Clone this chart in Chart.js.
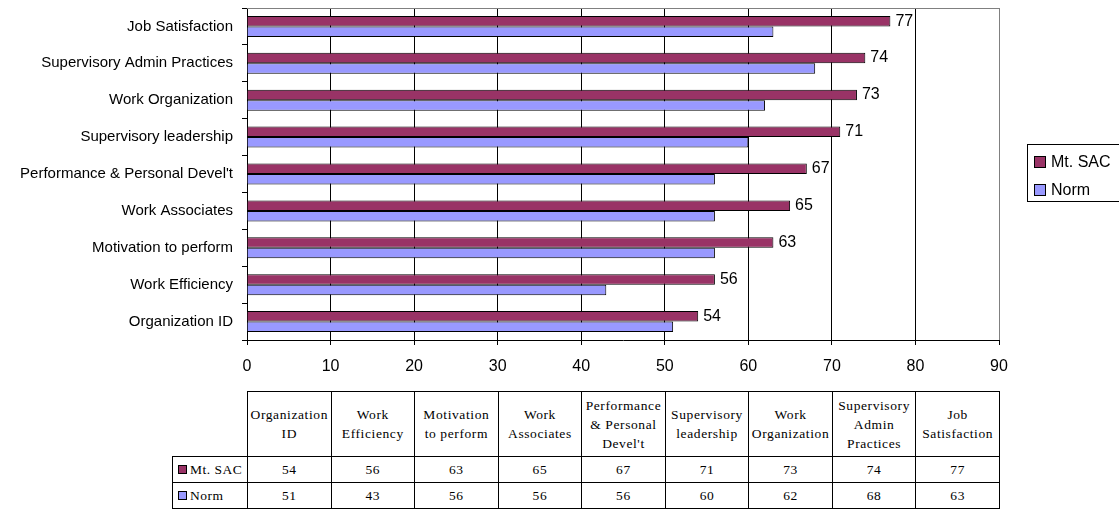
<!DOCTYPE html>
<html>
<head>
<meta charset="utf-8">
<script src="https://cdn.jsdelivr.net/npm/chart.js@4.4.1/dist/chart.umd.min.js"></script>
<style>
  body { margin: 0; background: #fff; width: 1119px; height: 510px; overflow: hidden; position: relative; }
  #chart { position: absolute; left: 0; top: 0; }
  #legend {
    position: absolute; left: 1027px; top: 144px; width: 110px; height: 58px;
    border: 1px solid #000; box-sizing: border-box;
    font: 16px Arial, "Liberation Sans", sans-serif; color: #000;
  }
  #legend .item { position: absolute; left: 6px; height: 16px; line-height: 16px; white-space: nowrap; }
  #legend .sw { display: inline-block; width: 10px; height: 10px; border: 1px solid #000; vertical-align: -1px; margin-right: 5px; }
  #dataTable {
    position: absolute; left: 172px; top: 391px;
    border-collapse: collapse; table-layout: fixed;
    font-family: "Liberation Serif", "Times New Roman", serif; font-size: 13.5px; color: #000;
  }
  #dataTable td { border: 1px solid #000; text-align: center; padding: 0; letter-spacing: 0.6px; }
  #dataTable tr.head td { height: 64px; line-height: 19px; }
  #dataTable tr.row td { height: 25px; }
  #dataTable td.blank { border: none; border-bottom: 1px solid #000; }
  #dataTable td.lab { text-align: left; padding-left: 5px; white-space: nowrap; letter-spacing: 0.5px; }
  #dataTable .sq { display: inline-block; width: 7px; height: 7px; border: 1px solid #000; margin-right: 3px; vertical-align: 0px; }
</style>
</head>
<body>
<canvas id="chart" width="1119" height="380"></canvas>
<div id="legend"></div>
<table id="dataTable"></table>
<script>
const categories = ['Organization ID', 'Work Efficiency', 'Motivation to perform', 'Work Associates',
  "Performance & Personal Devel't", 'Supervisory leadership', 'Work Organization',
  'Supervisory Admin Practices', 'Job Satisfaction'];
const seriesNames = ['Mt. SAC', 'Norm'];
const mtSac = [54, 56, 63, 65, 67, 71, 73, 74, 77];
const norm = [51, 43, 56, 56, 56, 60, 62, 68, 63];
const xTicks = [0, 10, 20, 30, 40, 50, 60, 70, 80, 90];
// header text of the data table, wrapped like the original
const tableHeaders = [
  ['Organization', 'ID'], ['Work', 'Efficiency'], ['Motivation', 'to perform'], ['Work', 'Associates'],
  ['Performance', '& Personal', "Devel't"], ['Supervisory', 'leadership'], ['Work', 'Organization'],
  ['Supervisory', 'Admin', 'Practices'], ['Job', 'Satisfaction']
];

const colors = ['#993366', '#9999ff'];

const frame = {
  id: 'frame',
  beforeDatasetsDraw(chart) {
    const { ctx, chartArea: a } = chart;
    ctx.save();
    ctx.strokeStyle = '#808080';
    ctx.lineWidth = 1;
    ctx.beginPath();
    ctx.moveTo(a.left, a.top + 0.5);
    ctx.lineTo(a.right, a.top + 0.5);
    ctx.stroke();
    ctx.restore();
  },
  afterDatasetsDraw(chart) {
    const { ctx } = chart;
    const meta = chart.getDatasetMeta(0);
    ctx.save();
    ctx.font = '16px Arial, "Liberation Sans", sans-serif';
    ctx.fillStyle = '#000';
    ctx.textAlign = 'left';
    ctx.textBaseline = 'middle';
    meta.data.forEach((bar, i) => {
      ctx.fillText(String(mtSac[i]), bar.x + 5, bar.y);
    });
    ctx.restore();
  }
};

const chart = new Chart(document.getElementById('chart'), {
  type: 'bar',
  data: {
    labels: categories,
    datasets: [
      { label: seriesNames[0], data: mtSac, backgroundColor: colors[0], borderColor: '#000', borderWidth: 1 },
      { label: seriesNames[1], data: norm, backgroundColor: colors[1], borderColor: '#000', borderWidth: 1 }
    ]
  },
  options: {
    indexAxis: 'y',
    responsive: false,
    animation: false,
    categoryPercentage: 0.57,
    barPercentage: 1,
    layout: { padding: { top: 8, right: 120, left: 0, bottom: 0 } },
    plugins: { legend: { display: false }, tooltip: { enabled: false } },
    scales: {
      x: {
        min: 0, max: 90,
        afterBuildTicks: (s) => { s.ticks = xTicks.map(v => ({ value: v })); },
        afterFit: (s) => { s.height = 40; s.paddingLeft = 0; s.paddingRight = 0; },
        border: { color: '#000' },
        grid: {
          color: (c) => (c.tick && c.tick.value === 90 ? '#808080' : '#000'),
          tickColor: '#000',
          tickLength: 5
        },
        ticks: { color: '#000', padding: 12, font: { family: 'Arial, "Liberation Sans", sans-serif', size: 16 } }
      },
      y: {
        reverse: true,
        afterFit: (s) => { s.width = 247; s.paddingTop = 0; s.paddingBottom = 0; },
        border: { color: '#000' },
        grid: { drawOnChartArea: false, color: '#000', tickLength: 5 },
        ticks: { color: '#000', padding: 9, font: { family: 'Arial, "Liberation Sans", sans-serif', size: 15 } }
      }
    }
  },
  plugins: [frame]
});

// legend
const legend = document.getElementById('legend');
seriesNames.forEach((name, i) => {
  const d = document.createElement('div');
  d.className = 'item';
  d.style.top = (9 + i * 28) + 'px';
  d.innerHTML = '<span class="sw" style="background:' + colors[i] + '"></span>' + name;
  legend.appendChild(d);
});

// data table, columns lined up with the x scale ticks
const xs = chart.scales.x;
const px = (v) => xs.getPixelForValue(v);
const table = document.getElementById('dataTable');
const cg = document.createElement('colgroup');
let html = '<col style="width:' + (px(0) - 172) + 'px">';
for (let i = 0; i < tableHeaders.length; i++) {
  html += '<col style="width:' + (px(xTicks[i + 1]) - px(xTicks[i])) + 'px">';
}
cg.innerHTML = html;
table.appendChild(cg);
table.style.width = (px(90) - 172 + 1) + 'px';

const esc = (s) => s.replace(/&/g, '&amp;');
const tbody = document.createElement('tbody');
let rows = '<tr class="head"><td class="blank"></td>';
tableHeaders.forEach(h => { rows += '<td>' + h.map(esc).join('<br>') + '</td>'; });
rows += '</tr>';
[mtSac, norm].forEach((vals, s) => {
  rows += '<tr class="row"><td class="lab"><span class="sq" style="background:' + colors[s] + '"></span>' + seriesNames[s] + '</td>';
  vals.forEach(v => { rows += '<td>' + v + '</td>'; });
  rows += '</tr>';
});
tbody.innerHTML = rows;
table.appendChild(tbody);
</script>
</body>
</html>
